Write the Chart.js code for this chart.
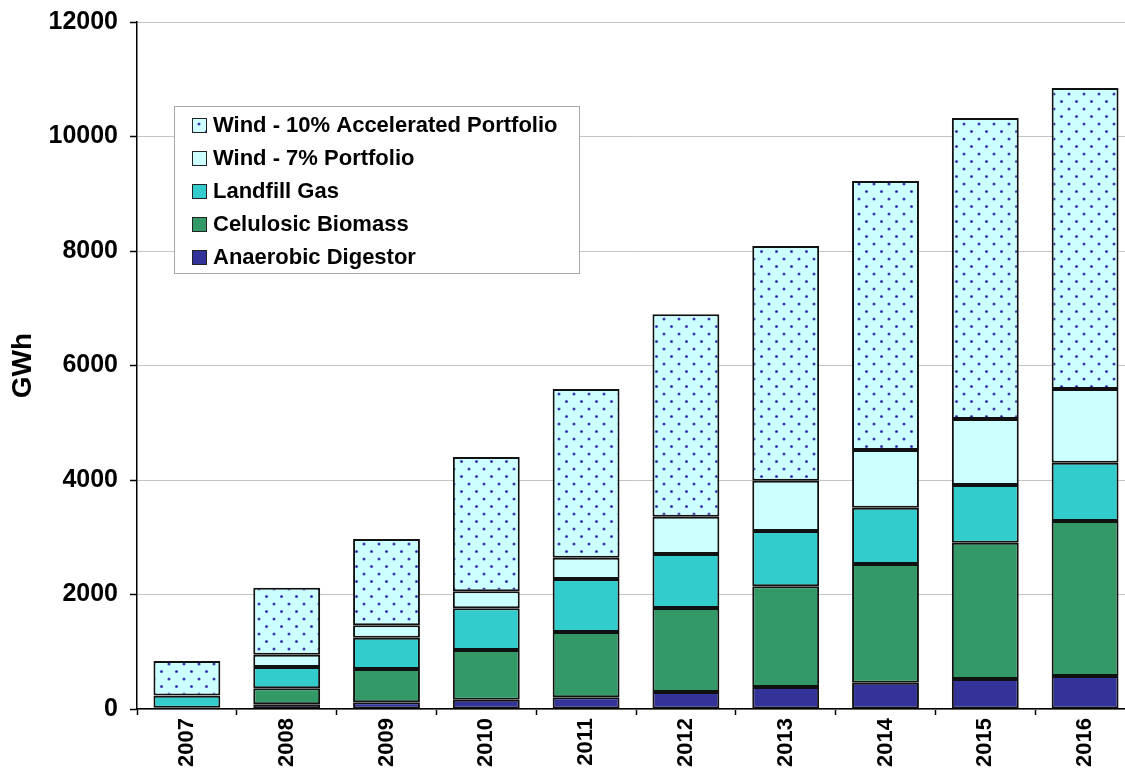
<!DOCTYPE html>
<html>
<head>
<meta charset="utf-8">
<script src="https://cdn.jsdelivr.net/npm/chart.js@4/dist/chart.umd.min.js"></script>
<style>
  body { margin: 0; background: #fff; overflow: hidden; }
  #wrap { width: 1125px; height: 770px; overflow: hidden; }
</style>
</head>
<body>
<div id="wrap"><canvas id="chart" width="1140" height="770"></canvas></div>
<script>
// chart data
var years = ['2007', '2008', '2009', '2010', '2011', '2012', '2013', '2014', '2015', '2016'];
var anaerobic = [5, 82, 117, 163, 204, 297, 384, 460, 524, 576];
var biomass = [15, 279, 582, 868, 1141, 1467, 1759, 2073, 2381, 2708];
var landfill = [210, 372, 547, 728, 926, 943, 966, 983, 1008, 1019];
var wind7 = [5, 216, 216, 297, 372, 652, 879, 1008, 1153, 1287];
var wind10 = [605, 1170, 1507, 2346, 2947, 3535, 4099, 4699, 5257, 5257];
var yTicks = [0, 2000, 4000, 6000, 8000, 10000, 12000];

var FONT = '"Liberation Sans", Arial, sans-serif';

// dotted fill for the accelerated wind series
function dotPattern() {
    var c = document.createElement('canvas');
    c.width = 15; c.height = 15;
    var g = c.getContext('2d');
    g.fillStyle = '#CCFFFF';
    g.fillRect(0, 0, 15, 15);
    g.fillStyle = '#5a5ad0';
    g.beginPath(); g.arc(4, 4, 1.6, 0, Math.PI * 2); g.fill();
    g.beginPath(); g.arc(11.5, 11.5, 1.6, 0, Math.PI * 2); g.fill();
    g.fillStyle = '#1a1a80';
    g.fillRect(3.3, 3.3, 1.4, 1.4);
    g.fillRect(10.8, 10.8, 1.4, 1.4);
    return g.createPattern(c, 'repeat');
}
var dots = dotPattern();

function series(label, data, color) {
    return {
        label: label,
        data: data,
        backgroundColor: color,
        borderColor: '#111',
        borderWidth: 2,
        borderSkipped: false,
        barPercentage: 0.67,
        categoryPercentage: 1
    };
}

// legend drawn inside the plot, top entry first
var boxLegend = {
    id: 'boxLegend',
    afterDraw: function(chart) {
        var ctx = chart.ctx;
        var sets = chart.data.datasets.slice().reverse();
        ctx.save();
        ctx.fillStyle = '#fff';
        ctx.fillRect(174, 106, 405, 167);
        ctx.strokeStyle = '#a8a8a8';
        ctx.lineWidth = 1;
        ctx.strokeRect(174.5, 106.5, 405, 167);
        ctx.font = 'bold 22px ' + FONT;
        ctx.textBaseline = 'middle';
        ctx.textAlign = 'left';
        sets.forEach(function(ds, i) {
            var y = 125 + i * 33;
            ctx.fillStyle = ds.backgroundColor;
            ctx.fillRect(192, y - 7, 15, 15);
            ctx.strokeStyle = '#222';
            ctx.strokeRect(192.5, y - 6.5, 14, 14);
            ctx.fillStyle = '#000';
            ctx.fillText(ds.label, 213, y + 1);
        });
        ctx.restore();
    }
};

var chart = new Chart(document.getElementById('chart'), {
    type: 'bar',
    data: {
        labels: years,
        datasets: [
            series('Anaerobic Digestor', anaerobic, '#333399'),
            series('Celulosic Biomass', biomass, '#339966'),
            series('Landfill Gas', landfill, '#33CCCC'),
            series('Wind - 7% Portfolio', wind7, '#CCFFFF'),
            series('Wind - 10% Accelerated Portfolio', wind10, dots)
        ]
    },
    options: {
        responsive: false,
        animation: false,
        layout: { padding: { top: 22, right: 5, left: 0, bottom: 0 } },
        plugins: { legend: { display: false }, tooltip: { enabled: false } },
        scales: {
            x: {
                stacked: true,
                border: { color: '#000', width: 1.5 },
                grid: { drawOnChartArea: false, tickLength: 6, tickColor: '#000', tickWidth: 1.5 },
                ticks: {
                    color: '#000', padding: 3, minRotation: 90, maxRotation: 90,
                    font: { family: FONT, size: 22, weight: 'bold' }
                },
                afterFit: function(s) {
                    s.height = 61;
                    s.paddingLeft = 0;
                    s.paddingRight = 0;
                }
            },
            y: {
                stacked: true,
                min: 0,
                max: 12000,
                afterBuildTicks: function(s) {
                    s.ticks = yTicks.map(function(v) { return { value: v }; });
                },
                border: { color: '#000', width: 1.5 },
                grid: { color: '#c4c4c4', lineWidth: 1, tickLength: 7, tickColor: '#000', tickWidth: 1.5 },
                ticks: {
                    color: '#000', padding: 12,
                    callback: function(v) { return String(v); },
                    font: { family: FONT, size: 25, weight: 'bold' }
                },
                title: {
                    display: true, text: 'GWh', color: '#000',
                    padding: { top: 6, bottom: 0 },
                    font: { family: FONT, size: 28, weight: 'bold' }
                },
                afterFit: function(s) {
                    s.width = 137;
                    s.paddingTop = 0;
                    s.paddingBottom = 0;
                }
            }
        }
    },
    plugins: [boxLegend]
});
</script>
</body>
</html>
